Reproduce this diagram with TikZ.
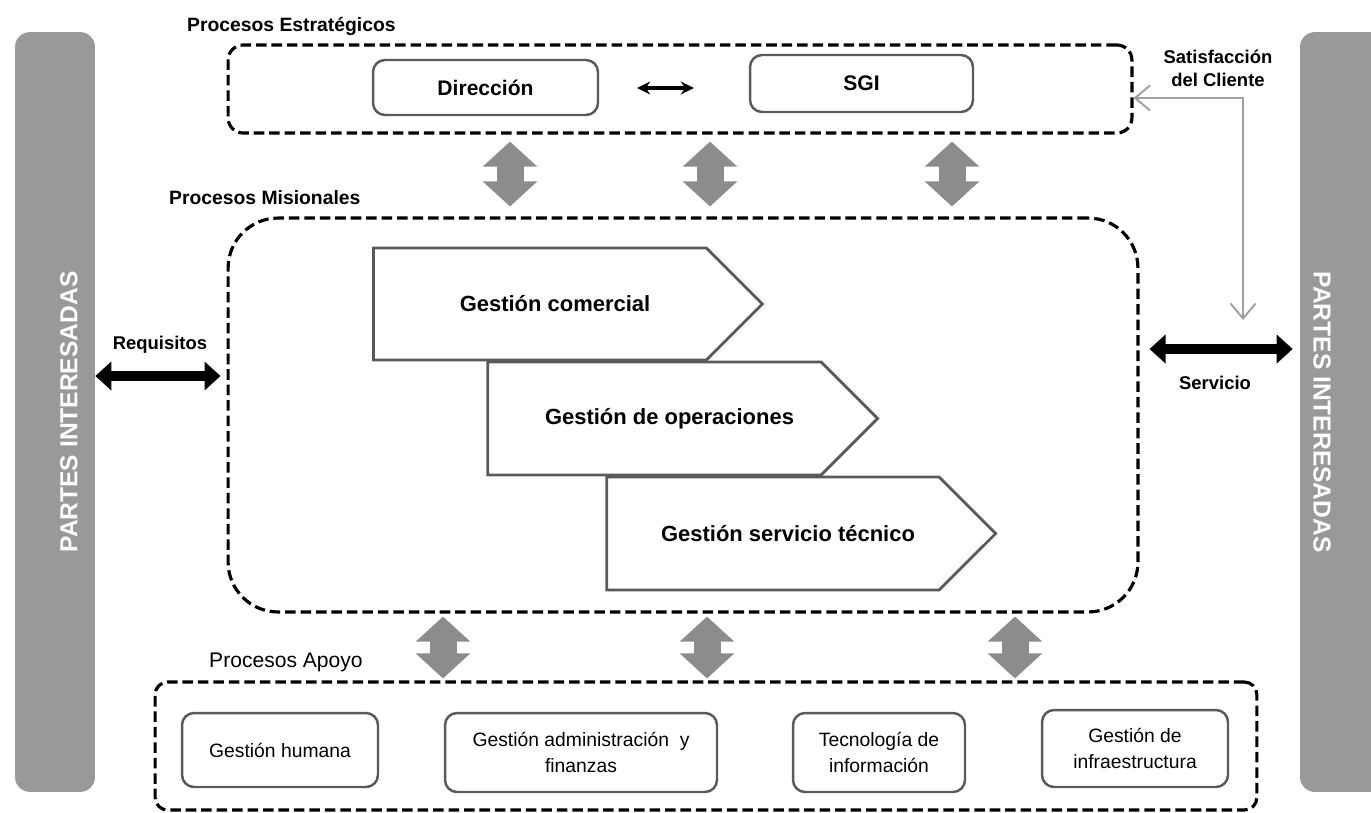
\documentclass[tikz,border=0pt]{standalone}
\usepackage{fontspec}
\setmainfont{Liberation Sans}
\usepackage{tikz}
\usetikzlibrary{arrows.meta, shapes.symbols, positioning}
\definecolor{bargray}{RGB}{153,153,153}
\definecolor{arrowgray}{RGB}{140,140,140}
\definecolor{edgegray}{RGB}{90,90,90}
\definecolor{linegray}{RGB}{160,160,160}

\tikzset{
  dashframe/.style={draw=black, line width=1.8pt, dash pattern=on 6pt off 2.8pt, rounded corners=0.3cm},
  procbox/.style={draw=edgegray, line width=1.4pt, rounded corners=0.24cm, fill=white, align=center},
  flow/.style={signal, signal to=east, signal pointer angle=90, draw=edgegray, line width=1.6pt,
    fill=white, font=\fontsize{12.5}{15}\selectfont\bfseries, execute at begin node=\hspace*{0.6cm}},
  sidebar/.style={fill=bargray, rounded corners=0.3cm, minimum width=1.6cm, minimum height=15.2cm},
  fatarrow/.style={draw=arrowgray, line width=0.54cm, {Triangle[width=1.06cm, length=0.5cm]}-{Triangle[width=1.06cm, length=0.5cm]}},
  blkarrow/.style={draw=black, line width=0.2cm, {Triangle[width=0.56cm, length=0.32cm]}-{Triangle[width=0.56cm, length=0.32cm]}},
  label/.style={font=\fontsize{11}{13}\selectfont\bfseries, anchor=west}
}

\begin{document}
\begin{tikzpicture}[x=0.02cm, y=-0.02cm]
    \useasboundingbox (0,0) rectangle (1371,812);
    \fill[white] (0,0) rectangle (1371,812);

    % Side bars
    \node[sidebar] (barL) at (55,412) {};
    \node[sidebar, minimum width=1.8cm] (barR) at (1345,412) {};
    \node[rotate=90, text=white, font=\fontsize{14}{16}\selectfont\bfseries] (ptL) at (69,412) {PARTES INTERESADAS};
    \node[rotate=-90, text=white, font=\fontsize{14}{16}\selectfont\bfseries] (ptR) at (1322,412) {PARTES INTERESADAS};

    % Frames
    \node[dashframe, minimum width=18.08cm, minimum height=1.76cm] (top) at (680,89) {};
    \node[dashframe, rounded corners=1cm, minimum width=18.2cm, minimum height=7.88cm] (mis) at (683,415) {};
    \node[dashframe, rounded corners=0.25cm, minimum width=22.04cm, minimum height=2.56cm] (bot) at (706,746) {};

    % Labels of the frames
    \node[label] (lEst) at (181,26) {Procesos Estratégicos};
    \node[label] (lMis) at (163,198) {Procesos Misionales};
    \node[label, font=\fontsize{12}{14}\selectfont] (lApo) at (203,662) {Procesos Apoyo};

    % Strategic processes
    \node[procbox, minimum width=4.5cm, minimum height=1.1cm, font=\fontsize{12}{14}\selectfont\bfseries] (dir) at (485.5,87.5) {Dirección};
    \node[procbox, minimum width=4.46cm, minimum height=1.14cm, font=\fontsize{12}{14}\selectfont\bfseries] (sgi) at (861.5,83.5) {SGI};
    \draw[line width=2pt, {Stealth[length=0.26cm, width=0.26cm]}-{Stealth[length=0.26cm, width=0.26cm]}]
        ([xshift=0.76cm]dir.east |- 0,88) -- ([xshift=-1.1cm]sgi.west |- 0,88);

    % Missional processes
    \node[flow, minimum width=7.78cm, minimum height=2.24cm] (gc) at (540,304) {Gestión comercial};
    \node[flow, minimum width=7.8cm, minimum height=2.26cm] (go) at (654.5,418.5) {Gestión de operaciones};
    \node[flow, minimum width=7.78cm, minimum height=2.26cm] (gs) at (773,533.5) {Gestión servicio técnico};

    % Support processes
    \node[procbox, minimum width=3.92cm, minimum height=1.48cm, font=\fontsize{11}{14.5}\selectfont] (hum) at (280,750) {Gestión humana};
    \node[procbox, minimum width=5.44cm, minimum height=1.58cm, font=\fontsize{11}{14.5}\selectfont] (adm) at (581,752.5) {Gestión administración\ \ y\\finanzas};
    \node[procbox, minimum width=3.44cm, minimum height=1.58cm, font=\fontsize{11}{14.5}\selectfont] (tec) at (879,752.5) {Tecnología de\\información};
    \node[procbox, minimum width=3.72cm, minimum height=1.54cm, font=\fontsize{11}{14.5}\selectfont] (inf) at (1135,748.5) {Gestión de\\infraestructura};

    % Gray arrows between the levels
    \foreach \x in {510,710,952}
        \draw[fatarrow, shorten <=0.14cm, shorten >=0.2cm] (top.south -| \x,0) -- (mis.north -| \x,0);
    \foreach \x in {443,707,1015}
        \draw[fatarrow, shorten <=0.06cm, shorten >=0.04cm] (mis.south -| \x,0) -- (bot.north -| \x,0);

    % Requisitos / Servicio
    \node[font=\fontsize{10.5}{12}\selectfont\bfseries] (req) at (160,345) {Requisitos};
    \draw[blkarrow, shorten >=0.12cm] (barL.east |- 0,376) -- (mis.west |- 0,376);
    \node[font=\fontsize{10.5}{12}\selectfont\bfseries] (ser) at (1215,383) {Servicio};
    \draw[blkarrow, shorten <=0.2cm, shorten >=0.14cm] (mis.east |- 0,349) -- (barR.west |- 0,349);

    % Satisfaccion del cliente
    \node[font=\fontsize{10.5}{13}\selectfont\bfseries, align=center] (sat) at (1218,68) {Satisfacción\\del Cliente};
    \coordinate (satEnd) at (1243,320);
    \draw[linegray, line width=1.1pt, {Straight Barb[length=0.3cm, width=0.5cm]}-{Straight Barb[length=0.3cm, width=0.5cm]}]
        (satEnd) |- (top.east |- 0,98);
\end{tikzpicture}
\end{document}
